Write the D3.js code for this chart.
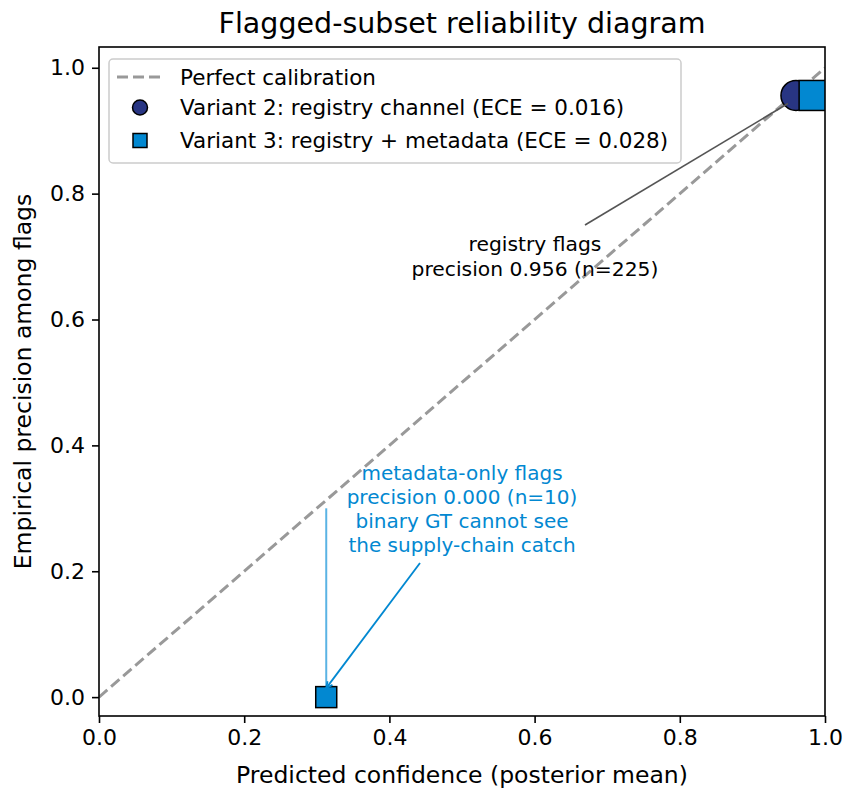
<!DOCTYPE html>
<html><head><meta charset="utf-8">
<script src="https://cdn.jsdelivr.net/npm/d3@7"></script>
<style>body{margin:0;background:#fff;} text{font-family:"DejaVu Sans",sans-serif;}</style>
</head><body>
<svg id="c" width="845" height="789"></svg>
<script>
const xTicks = [0.0, 0.2, 0.4, 0.6, 0.8, 1.0];
const yTicks = [0.0, 0.2, 0.4, 0.6, 0.8, 1.0];
const diagonal = [[0, 0], [1, 1]];
const variant2 = [{conf: 0.960, prec: 0.956}];
const variant3 = [{conf: 0.985, prec: 0.956}, {conf: 0.313, prec: 0.000}];
const gapLine = [[0.313, 0.0], [0.313, 0.30]];
const legendLabels = ["Perfect calibration", "Variant 2: registry channel (ECE = 0.016)", "Variant 3: registry + metadata (ECE = 0.028)"];
const regText = ["registry flags", "precision 0.956 (n=225)"];
const metaText = ["metadata-only flags", "precision 0.000 (n=10)", "binary GT cannot see", "the supply-chain catch"];

const svg = d3.select("#c");
const L = 99, R = 825, T = 47, B = 716;
const x = d3.scaleLinear().domain([0, 1]).range([L, R]);
const y = d3.scaleLinear().domain([-0.03, 1.033]).range([B, T]);
const blue = "#0288d1", navy = "#283583";

svg.append("text").attr("x", (L+R)/2).attr("y", 33).attr("text-anchor","middle").attr("font-size", 28.5).text("Flagged-subset reliability diagram");

const defs = svg.append("defs");
defs.append("clipPath").attr("id","clip").append("rect").attr("x",L).attr("y",T).attr("width",R-L).attr("height",B-T);
const g = svg.append("g").attr("clip-path","url(#clip)");

g.append("line").attr("x1", x(diagonal[0][0])).attr("y1", y(diagonal[0][1])).attr("x2", x(diagonal[1][0])).attr("y2", y(diagonal[1][1]))
  .attr("stroke","#999").attr("stroke-width",3).attr("stroke-dasharray","11,5");

// gap line
g.append("line").attr("x1", x(gapLine[0][0])).attr("y1", y(gapLine[0][1]) - 8).attr("x2", x(gapLine[1][0])).attr("y2", y(gapLine[1][1]))
  .attr("stroke","#5ab3e4").attr("stroke-width",2);

// registry annotation arrow
svg.append("line").attr("x1", 585).attr("y1", 225).attr("x2", x(variant2[0].conf) - 8).attr("y2", y(variant2[0].prec) + 8)
  .attr("stroke","#555").attr("stroke-width",1.6);
// metadata arrow
const ax2 = x(variant3[1].conf), ay2 = y(variant3[1].prec) - 9;
svg.append("line").attr("x1", 420).attr("y1", 563).attr("x2", ax2).attr("y2", ay2).attr("stroke", blue).attr("stroke-width",1.8);
{
  const ang = Math.atan2(ay2-563, ax2-420);
  const hl = 7, hw = 0.45;
  const p = d3.path();
  p.moveTo(ax2 - hl*Math.cos(ang-hw), ay2 - hl*Math.sin(ang-hw));
  p.lineTo(ax2, ay2);
  p.lineTo(ax2 - hl*Math.cos(ang+hw), ay2 - hl*Math.sin(ang+hw));
  svg.append("path").attr("d", p.toString()).attr("fill","none").attr("stroke",blue).attr("stroke-width",1.8);
}

g.selectAll("circle.v2").data(variant2).enter().append("circle")
  .attr("cx", d=>x(d.conf)).attr("cy", d=>y(d.prec)).attr("r", 15)
  .attr("fill", navy).attr("stroke","#000").attr("stroke-width",1.5);
const sizes = [30, 21];
g.selectAll("rect.v3").data(variant3).enter().append("rect")
  .attr("x", (d,i)=>x(d.conf)-sizes[i]/2).attr("y", (d,i)=>y(d.prec)-sizes[i]/2)
  .attr("width",(d,i)=>sizes[i]).attr("height",(d,i)=>sizes[i])
  .attr("fill", blue).attr("stroke","#000").attr("stroke-width",1.5);

// frame
svg.append("rect").attr("x",L).attr("y",T).attr("width",R-L).attr("height",B-T).attr("fill","none").attr("stroke","#000").attr("stroke-width",1.6);

// axes
const xa = svg.append("g").attr("transform",`translate(0,${B})`).call(d3.axisBottom(x).tickValues(xTicks).tickFormat(d3.format(".1f")).tickSize(7).tickPadding(6));
const ya = svg.append("g").attr("transform",`translate(${L},0)`).call(d3.axisLeft(y).tickValues(yTicks).tickFormat(d3.format(".1f")).tickSize(7).tickPadding(7));
[xa, ya].forEach(a => { a.select(".domain").remove(); a.selectAll("text").attr("font-size",22).attr("font-family","DejaVu Sans").attr("fill","#000"); a.selectAll("line").attr("stroke","#000").attr("stroke-width",1.6); });

svg.append("text").attr("x",(L+R)/2).attr("y",783).attr("text-anchor","middle").attr("font-size",23.5).text("Predicted confidence (posterior mean)");
svg.append("text").attr("transform",`translate(23,${(T+B)/2}) rotate(-90)`).attr("dy","0.35em").attr("text-anchor","middle").attr("font-size",23.5).text("Empirical precision among flags");

// annotations
regText.forEach((t,i)=> svg.append("text").attr("x",535).attr("y",251+i*24.5).attr("text-anchor","middle").attr("font-size",20.3).attr("fill","#000").text(t));
metaText.forEach((t,i)=> svg.append("text").attr("x",462).attr("y",480+i*24).attr("text-anchor","middle").attr("font-size",20).attr("fill",blue).text(t));

// legend
const lg = svg.append("g");
lg.append("rect").attr("x",109).attr("y",59).attr("width",572).attr("height",104).attr("rx",4)
  .attr("fill","#fff").attr("fill-opacity",0.8).attr("stroke","#ccc").attr("stroke-width",1.5);
const rowsY = [77, 107.5, 140.5];
lg.append("line").attr("x1",117).attr("x2",165).attr("y1",rowsY[0]).attr("y2",rowsY[0]).attr("stroke","#999").attr("stroke-width",3).attr("stroke-dasharray","11,5");
lg.append("circle").attr("cx",140).attr("cy",rowsY[1]).attr("r",7.5).attr("fill",navy).attr("stroke","#000").attr("stroke-width",1.5);
lg.append("rect").attr("x",133).attr("y",rowsY[2]-7).attr("width",14).attr("height",14).attr("fill",blue).attr("stroke","#000").attr("stroke-width",1.5);
legendLabels.forEach((t,i)=> lg.append("text").attr("x",180).attr("y",rowsY[i]).attr("dy","0.35em").attr("font-size",21.5).text(t));
</script>
</body></html>
